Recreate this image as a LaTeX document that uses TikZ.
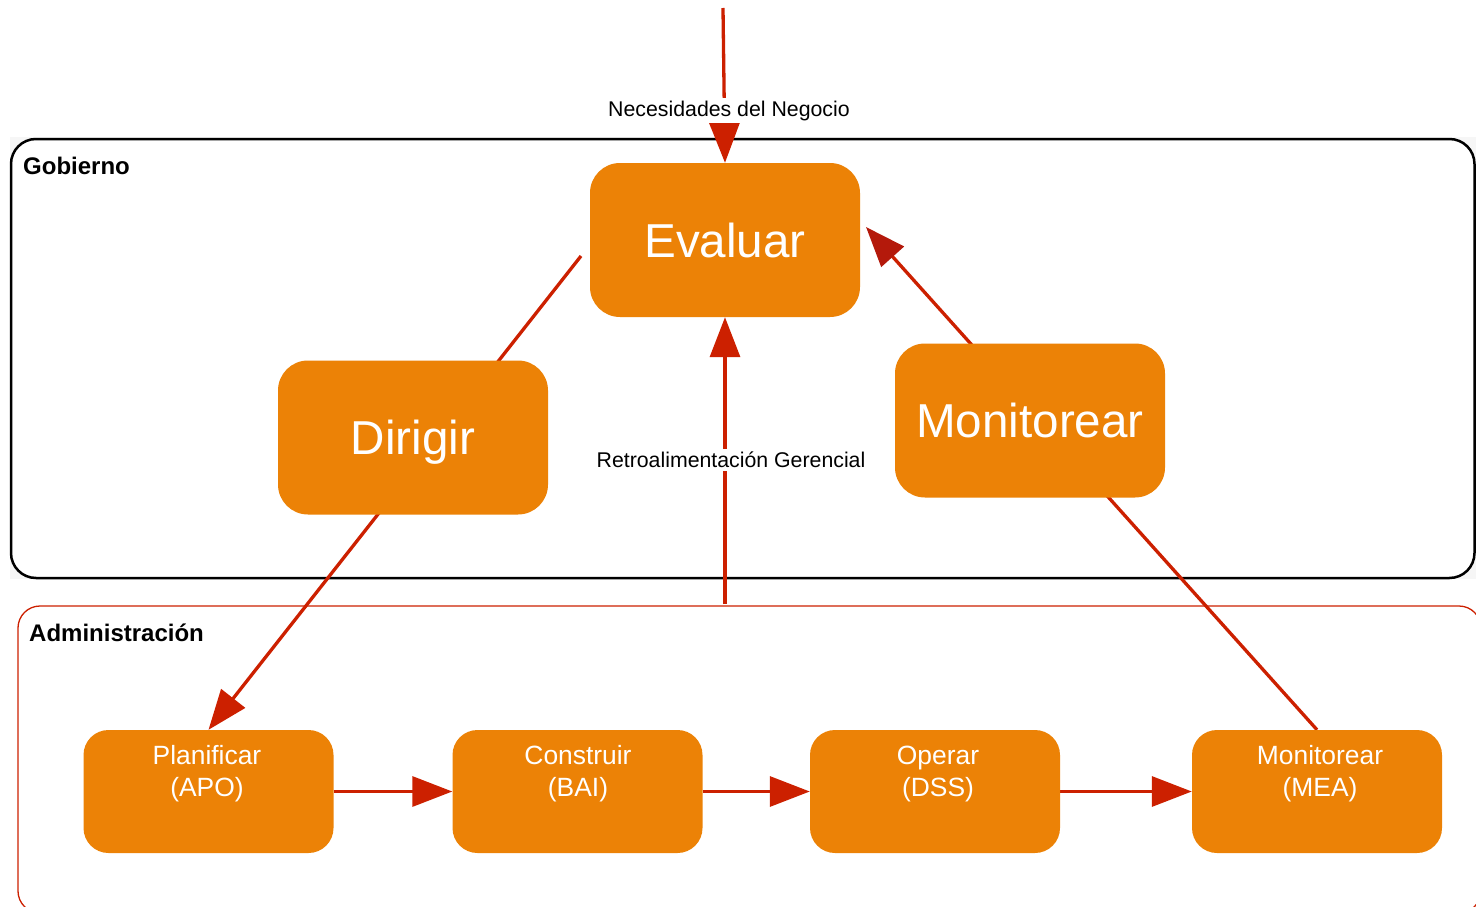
\documentclass[tikz,border=0pt]{standalone}
\usepackage{fontspec}
\setmainfont{Liberation Sans}
\usetikzlibrary{arrows.meta}
\definecolor{boxorange}{HTML}{EC8206}
\definecolor{linered}{HTML}{CC2000}
\definecolor{tipdark}{HTML}{B4190B}
\pgfdeclarelayer{frames}
\pgfdeclarelayer{links}
\pgfsetlayers{frames,links,main}
\begin{document}
\begin{tikzpicture}[x=1pt,y=-1pt,
  bigbox/.style={rectangle, rounded corners=30pt, fill=boxorange, minimum width=270pt, minimum height=154pt, inner sep=0pt, text=white, font=\fontsize{47.6}{56}\selectfont, text depth=0pt},
  smallbox/.style={rectangle, rounded corners=25pt, fill=boxorange, minimum width=250pt, minimum height=123pt, inner sep=0pt},
  smalltext/.style={text=white, font=\fontsize{26.4}{32}\selectfont, anchor=base, inner sep=0pt},
  link/.style={draw=linered, line width=3.3pt, -{Triangle[length=40pt,width=30pt]}},
  flowlabel/.style={fill=white, inner sep=3pt, font=\fontsize{21.3}{25}\selectfont},
  framelabel/.style={anchor=base west, inner sep=0pt, font=\fontsize{24}{28}\selectfont\bfseries}
]
\useasboundingbox (0,0) rectangle (1476,907);

% nodes
\node[bigbox] (eval) at (725,240) {Evaluar};
\node[bigbox] (dir) at (413,437.5) {Dirigir};
\node[bigbox] (mon) at (1030,420.5) {Monitorear};
\node[smallbox] (apo) at (208.5,791.5) {};
\node[smallbox] (bai) at (577.5,791.5) {};
\node[smallbox] (dss) at (935,791.5) {};
\node[smallbox] (mea) at (1317,791.5) {};
\node[smalltext] (apo1) at (207,764) {Planificar};
\node[smalltext] (apo2) at (207,796) {(APO)};
\node[smalltext] (bai1) at (578,764) {Construir};
\node[smalltext] (bai2) at (578,796) {(BAI)};
\node[smalltext] (dss1) at (938,764) {Operar};
\node[smalltext] (dss2) at (938,796) {(DSS)};
\node[smalltext] (mea1) at (1320,764) {Monitorear};
\node[smalltext] (mea2) at (1320,796) {(MEA)};

% frames
\begin{pgfonlayer}{frames}
  \fill[gray!7] (10,137) rectangle (1476,579);
  \draw[black, line width=2.5pt, fill=white, rounded corners=25pt] (11,139) rectangle (1474.5,578);
  \draw[linered, line width=1.3pt, rounded corners=22pt] (18,606) rectangle (1481,913);
\end{pgfonlayer}
\node[framelabel] (gob) at (23,174) {Gobierno};
\node[framelabel] (adm) at (29,641) {Administración};

% connectors
\coordinate (topin) at (723,8);
\coordinate (dstart) at (581,256);
\coordinate (mend) at (866,227);
\coordinate (rstart) at (725,604);
\begin{pgfonlayer}{links}
  \draw[link] (topin) -- (eval.north);
  \draw[link] (dstart) -- (apo.north);
  \draw[draw=linered, line width=3.3pt, -{Triangle[length=40pt,width=30pt,color=tipdark]}] (mea.north) -- (mend);
  \draw[link] (rstart) -- (eval.south);
  \draw[link] (apo.east) -- (bai.west);
  \draw[link] (bai.east) -- (dss.west);
  \draw[link] (dss.east) -- (mea.west);
\end{pgfonlayer}
\node[flowlabel] (need) at (729,110.5) {Necesidades del Negocio};
\node[flowlabel] (retro) at (731,460) {Retroalimentación Gerencial};
\end{tikzpicture}
\end{document}
